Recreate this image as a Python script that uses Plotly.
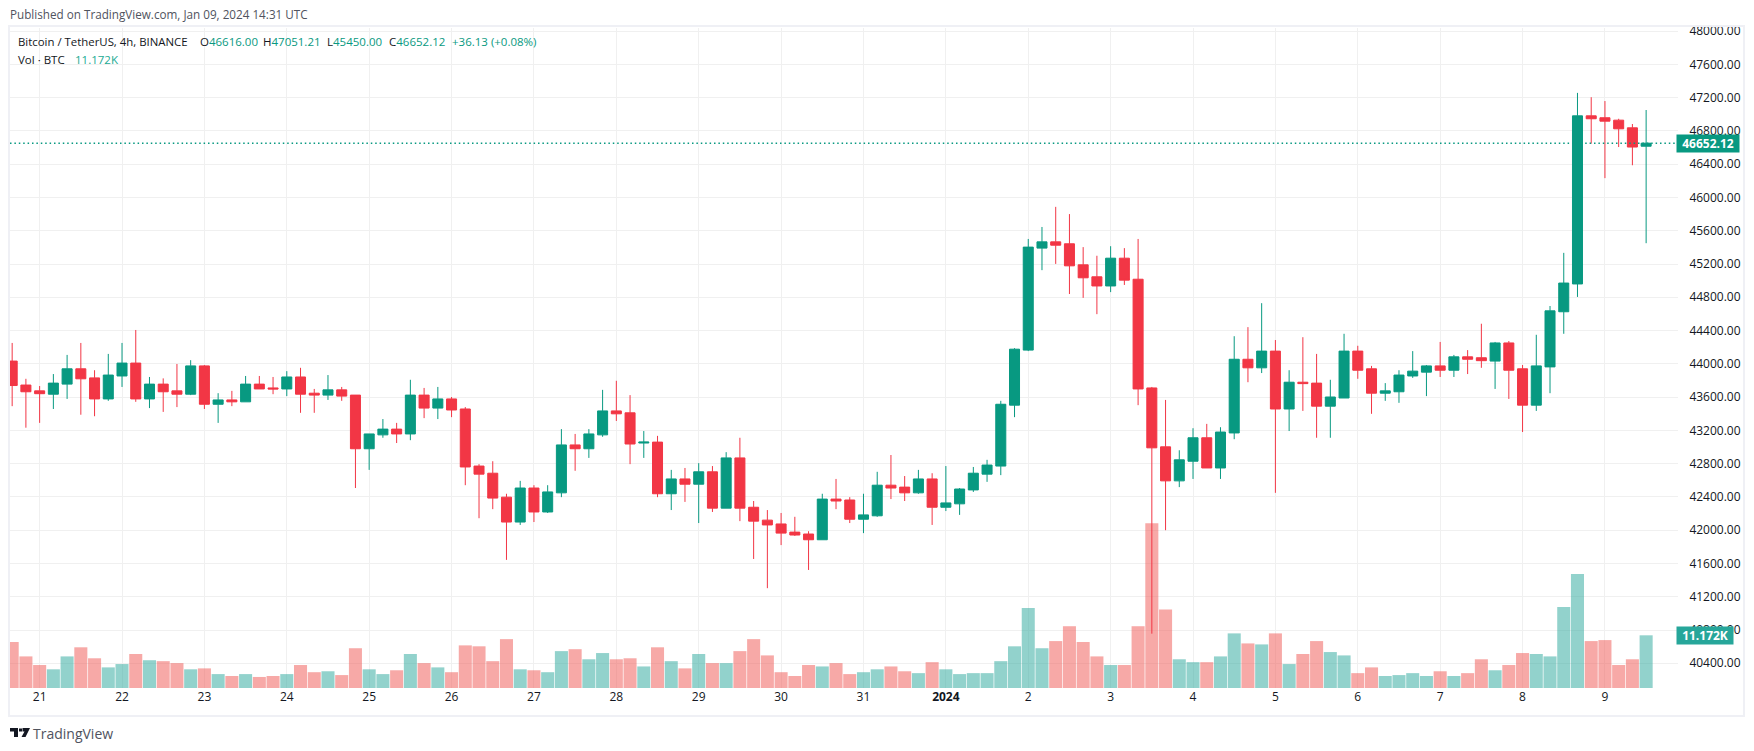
import pandas as pd
import plotly.graph_objects as go

opens = [44033, 43745, 43675, 43635, 43756, 43940, 43831, 43578, 43854, 44009, 43578, 43756, 43675, 43635, 43975, 43514, 43566, 43543, 43756, 43710,
         43698, 43842, 43647, 43624, 43687, 43624, 42979, 43146, 43215, 43157, 43624, 43468, 43578, 43457, 42771, 42685, 42397, 42098, 42507, 42219,
         42449, 43025, 42979, 43146, 43434, 43411, 43048, 43059, 42438, 42616, 42553, 42702, 42265, 42869, 42276, 42121, 42075, 41977, 41954, 41885,
         42374, 42363, 42132, 42173, 42541, 42518, 42449, 42616, 42276, 42317, 42484, 42674, 42771, 43503, 44165, 45391, 45466, 45443, 45190, 45046,
         44936, 45270, 45017, 43710, 43002, 42593, 42829, 43111, 42748, 43169, 44055, 43952, 44153, 43457, 43779, 43768, 43491, 43589, 44153, 43940,
         43647, 43664, 43854, 43900, 43975, 43923, 44084, 44073, 44033, 44251, 43940, 43503, 43963, 44626, 44960, 46981, 46958, 46929, 46837, 46616.00]
highs = [44251, 43820, 43733, 43877, 44107, 44251, 43923, 44119, 44251, 44407, 43842, 43825, 43998, 44044, 43986, 43647, 43675, 43854, 43854, 43842,
         43912, 43952, 43698, 43865, 43722, 43624, 43157, 43336, 43290, 43808, 43710, 43722, 43601, 43480, 42794, 42829, 42438, 42593, 42541, 42541,
         43215, 43157, 43215, 43687, 43796, 43624, 43192, 43134, 42725, 42748, 42806, 42771, 42938, 43111, 42351, 42242, 42207, 42161, 41988, 42438,
         42616, 42397, 42438, 42702, 42904, 42651, 42725, 42685, 42771, 42507, 42760, 42846, 43555, 44188, 45501, 45645, 45887, 45800, 45403, 45299,
         45414, 45391, 45501, 43722, 43566, 42961, 43226, 43278, 43238, 44332, 44441, 44729, 44286, 43923, 44320, 44119, 43808, 44361, 44217, 43975,
         43768, 43923, 44153, 43986, 44263, 44107, 44165, 44482, 44263, 44274, 43986, 44349, 44695, 45334, 47257, 47205, 47159, 46946, 46883, 47051.21]
lows = [43491, 43232, 43290, 43457, 43578, 43388, 43370, 43555, 43722, 43543, 43468, 43422, 43480, 43624, 43457, 43290, 43491, 43543, 43698, 43635,
        43612, 43411, 43411, 43566, 43555, 42507, 42725, 43111, 43048, 43082, 43347, 43336, 43359, 42541, 42144, 42253, 41643, 42063, 42098, 42207,
        42397, 42714, 42869, 43123, 43313, 42794, 42869, 42397, 42242, 42340, 42086, 42219, 42265, 42109, 41654, 41303, 41821, 41931, 41522, 41885,
        42253, 42086, 41965, 42161, 42374, 42351, 42438, 42063, 42230, 42184, 42460, 42581, 42662, 43359, 44153, 45126, 45201, 44839, 44793, 44597,
        44862, 44948, 43503, 40756, 42000, 42518, 42616, 42748, 42616, 43094, 43779, 43889, 42449, 43192, 43434, 43111, 43111, 43589, 43820, 43399,
        43555, 43531, 43831, 43612, 43842, 43842, 43877, 43952, 43698, 43578, 43180, 43434, 43647, 44361, 44804, 46647, 46232, 46606, 46387, 45450.00]
closes = [43739, 43664, 43641, 43768, 43940, 43820, 43578, 43865, 44009, 43578, 43756, 43664, 43635, 43975, 43514, 43566, 43543, 43756, 43698, 43698,
          43842, 43635, 43624, 43687, 43612, 42979, 43157, 43215, 43157, 43624, 43468, 43578, 43445, 42760, 42674, 42386, 42098, 42507, 42219, 42460,
          43025, 42979, 43157, 43434, 43399, 43036, 43059, 42438, 42616, 42553, 42702, 42265, 42869, 42265, 42109, 42063, 41965, 41942, 41885, 42374,
          42351, 42132, 42184, 42541, 42507, 42449, 42616, 42276, 42328, 42495, 42685, 42783, 43514, 44176, 45403, 45466, 45426, 45178, 45034, 44936,
          45270, 45006, 43698, 42990, 42593, 42846, 43111, 42748, 43180, 44055, 43952, 44153, 43457, 43779, 43762, 43491, 43601, 44153, 43923, 43647,
          43675, 43865, 43912, 43975, 43923, 44084, 44055, 44038, 44251, 43923, 43503, 43975, 44637, 44971, 46981, 46946, 46917, 46825, 46606, 46652.12]
# volume in thousands of BTC
volumes = [9.75, 6.70, 4.87, 3.96, 6.70, 8.63, 6.30, 4.37, 5.08, 7.21, 5.89, 5.69, 5.28, 3.96, 4.16, 2.95, 2.54, 2.95, 2.34, 2.54,
           2.95, 4.87, 3.35, 3.55, 2.74, 8.43, 3.96, 2.95, 3.76, 7.21, 5.28, 4.37, 3.35, 9.04, 8.84, 5.69, 10.36, 3.96, 3.76, 3.35,
           7.82, 8.23, 6.09, 7.41, 6.09, 6.30, 4.57, 8.63, 5.69, 4.16, 7.21, 5.28, 5.28, 7.82, 10.36, 6.91, 3.35, 2.54, 4.87, 4.57,
           5.28, 2.95, 3.35, 3.96, 4.57, 3.55, 3.15, 5.48, 3.96, 2.95, 3.15, 3.15, 5.69, 8.84, 16.96, 8.43, 9.95, 13.10, 9.75, 6.70,
           4.87, 4.87, 13.10, 34.94, 16.66, 6.09, 5.48, 5.48, 6.70, 11.58, 9.45, 9.24, 11.58, 5.08, 7.21, 9.95, 7.62, 6.91, 3.15, 4.37,
           2.54, 2.74, 3.15, 2.54, 3.55, 2.54, 3.15, 6.09, 3.76, 4.87, 7.41, 7.21, 6.70, 17.16, 24.17, 9.95, 10.16, 4.87, 6.09, 11.172]
tick_dates = ["2023-12-21", "2023-12-22", "2023-12-23", "2023-12-24", "2023-12-25", "2023-12-26", "2023-12-27", "2023-12-28", "2023-12-29", "2023-12-30", "2023-12-31",
              "2024-01-01", "2024-01-02", "2024-01-03", "2024-01-04", "2024-01-05", "2024-01-06", "2024-01-07", "2024-01-08", "2024-01-09"]
tick_labels = ["21", "22", "23", "24", "25", "26", "27", "28", "29", "30", "31", "<b>2024</b>", "2", "3", "4", "5", "6", "7", "8", "9"]
last_price = 46652.12
last_volume = "11.172K"

UP = "#089981"
DOWN = "#F23645"
GRID = "#F0F0F0"
FRAME = "#EFF0F5"
TEXT = "#131722"
FONT = "Open Sans"
# plot area in page pixels
LEFT, RIGHT, TOP, BOTTOM = 10, 1678, 28, 688

times = pd.date_range("2023-12-20 16:00", periods=len(opens), freq="4h")
bar_colors = ["rgba(38,166,154,0.5)" if c >= o else "rgba(239,83,80,0.5)" for o, c in zip(opens, closes)]


def px(x):  # page pixel to paper x
    return (x - LEFT) / (RIGHT - LEFT)


def py(y):  # page pixel to paper y
    return (BOTTOM - y) / (BOTTOM - TOP)


fig = go.Figure()
fig.add_trace(go.Bar(x=times, y=volumes, marker=dict(color=bar_colors, line_width=0), yaxis="y", hoverinfo="skip"))
fig.add_trace(go.Candlestick(x=times, open=opens, high=highs, low=lows, close=closes, yaxis="y2",
                             increasing=dict(line=dict(color=UP, width=1), fillcolor=UP),
                             decreasing=dict(line=dict(color=DOWN, width=1), fillcolor=DOWN),
                             whiskerwidth=0))

fig.update_layout(width=1754, height=751, showlegend=False, plot_bgcolor="white", paper_bgcolor="white",
                  margin=dict(l=LEFT, r=1754 - RIGHT, t=TOP, b=751 - BOTTOM),
                  bargap=0.05, boxgap=0.27, boxgroupgap=0, font=dict(family=FONT, size=12, color=TEXT),
                  xaxis=dict(type="date", range=["2023-12-20 15:22", "2024-01-09 21:17"], rangeslider_visible=False,
                             tickmode="array", tickvals=tick_dates, ticktext=tick_labels,
                             showgrid=True, gridcolor=GRID, gridwidth=1, ticks="", zeroline=False, showline=False),
                  yaxis=dict(range=[0, 139.95], visible=False, showgrid=False),
                  yaxis2=dict(range=[40103, 48037], overlaying="y", side="right", anchor="x", dtick=400, tick0=40000,
                              tickformat=".2f", showgrid=True, gridcolor=GRID, gridwidth=1, zeroline=False,
                              ticks="outside", ticklen=8, tickcolor="rgba(0,0,0,0)", showline=False))

# last price line
fig.add_shape(type="line", xref="paper", yref="y2", x0=0, x1=1, y0=last_price, y1=last_price, line=dict(color=UP, width=1.5, dash="1.5px,2.9px"))
# outer frame and the white strip that cuts the 48000 label
fig.add_shape(type="rect", xref="paper", yref="paper", x0=px(RIGHT), x1=px(1742), y0=py(19), y1=py(27), fillcolor="white", line_width=0, layer="above")
fig.add_shape(type="rect", xref="paper", yref="paper", x0=px(9), x1=px(1744), y0=py(716), y1=py(26), line=dict(color=FRAME, width=2), layer="above")
# logo
fig.add_shape(type="path", xref="paper", yref="paper", xsizemode="pixel", ysizemode="pixel", xanchor=0, yanchor=0,
              path="M0,-40 H8 V-49 H4 V-43.5 H0 Z", fillcolor="#131722", line_width=0)
fig.add_shape(type="path", xref="paper", yref="paper", xsizemode="pixel", ysizemode="pixel", xanchor=0, yanchor=0,
              path="M9,-40.5 H12 V-43.5 H9 Z", fillcolor="#131722", line_width=0)
fig.add_shape(type="path", xref="paper", yref="paper", xsizemode="pixel", ysizemode="pixel", xanchor=0, yanchor=0,
              path="M12.5,-40 H20 L15.5,-49 H11.5 L14.5,-43.5 H12.5 Z", fillcolor="#131722", line_width=0)

# page texts: text, left x, centre y, size, colour
page_texts = [
    ("Published on TradingView.com, Jan 09, 2024 14:31 UTC", 10, 14.5, 11.7, "#50535E"),
    ("Bitcoin / TetherUS, 4h, BINANCE", 18, 41.5, 11.4, "#131722"),
    ("O<span style='color:#089981'>46616.00</span>", 200, 41.5, 11.5, "#131722"),
    ("H<span style='color:#089981'>47051.21</span>", 263, 41.5, 11.5, "#131722"),
    ("L<span style='color:#089981'>45450.00</span>", 327, 41.5, 11.5, "#131722"),
    ("C<span style='color:#089981'>46652.12</span>", 389, 41.5, 11.5, "#131722"),
    ("<span style='color:#089981'>+36.13 (+0.08%)</span>", 452, 41.5, 11.5, "#131722"),
    ("Vol · BTC", 18, 59, 11.5, "#131722"),
    ("<span style='color:#22AB94'>" + last_volume + "</span>", 74.5, 59, 11.5, "#131722"),
    ("TradingView", 33, 733, 14, "#50535E"),
]
for text, x, y, size, color in page_texts:
    fig.add_annotation(text=text, xref="paper", yref="paper", x=px(x), y=py(y), xanchor="left", yanchor="middle",
                       showarrow=False, font=dict(size=size, color=color), borderpad=0, borderwidth=0)

# axis badges
fig.add_annotation(text="<b>46652.12</b>", xref="paper", yref="y2", x=1, y=last_price, xanchor="left", yanchor="middle", showarrow=False,
                   bgcolor=UP, width=62, height=17, xshift=-2, font=dict(color="white", size=12), borderpad=0)
fig.add_annotation(text="<b>" + last_volume + "</b>", xref="paper", yref="y", x=1, y=volumes[-1], xanchor="left", yanchor="middle", showarrow=False,
                   bgcolor="#26A69A", width=56, height=17, xshift=-2, font=dict(color="white", size=12), borderpad=0)

fig.write_html("out.html", post_script="document.body.style.margin = '0';", config=dict(displayModeBar=False))
